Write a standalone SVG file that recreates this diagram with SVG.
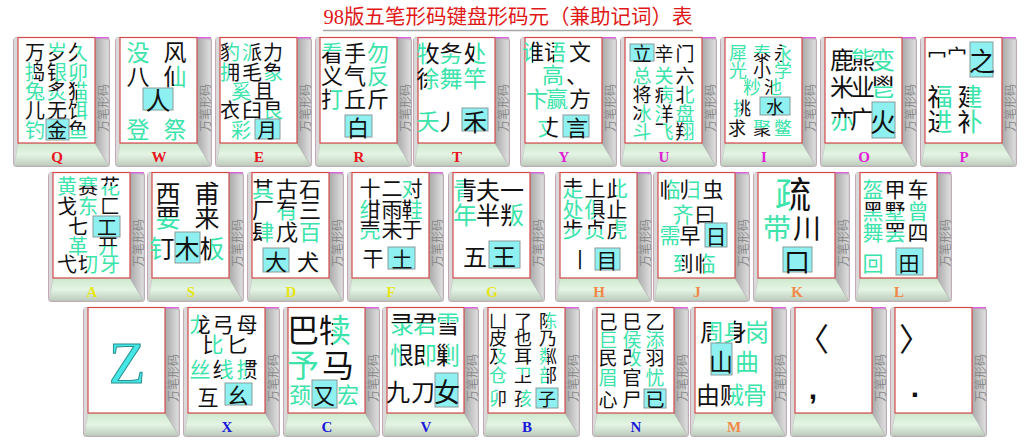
<svg xmlns="http://www.w3.org/2000/svg" width="1024" height="445" viewBox="0 0 1024 445">
<style>
text{font-family:"Noto Sans CJK SC",sans-serif;text-anchor:middle;dominant-baseline:central}
.k{fill:#111}
.g{fill:#3ce3aa}
.kg{fill:url(#KG)}
.gk{fill:url(#GK)}
.kgv{fill:url(#KGV)}
.gkv{fill:url(#GKV)}
.bx{fill:#8ef0f0;stroke:#8a9a9a;stroke-width:1}
.lb{font-family:"Liberation Serif",serif;font-weight:bold;font-size:15px}
.side{font-size:12px;fill:#8a8a8a}
.c1{fill:#e8141e}.c2{fill:#e020d8}.c3{fill:#e6e61a}.c4{fill:#f08848}.c5{fill:#1a1ad8}
</style>
<defs>
<linearGradient id="KG" x1="0" y1="0" x2="1" y2="0"><stop offset="0.45" stop-color="#111"/><stop offset="0.45" stop-color="#3ce3aa"/></linearGradient>
<linearGradient id="GK" x1="0" y1="0" x2="1" y2="0"><stop offset="0.45" stop-color="#3ce3aa"/><stop offset="0.45" stop-color="#111"/></linearGradient>
<linearGradient id="KGV" x1="0" y1="0" x2="0" y2="1"><stop offset="0.54" stop-color="#111"/><stop offset="0.54" stop-color="#3ce3aa"/></linearGradient>
<linearGradient id="GKV" x1="0" y1="0" x2="0" y2="1"><stop offset="0.54" stop-color="#3ce3aa"/><stop offset="0.54" stop-color="#111"/></linearGradient>
<linearGradient id="gb" x1="0" y1="0" x2="0" y2="1"><stop offset="0" stop-color="#cde8cd"/><stop offset="0.5" stop-color="#e4f4e4"/><stop offset="1" stop-color="#bccbbc"/></linearGradient>
<linearGradient id="gr" x1="0" y1="0" x2="1" y2="0"><stop offset="0" stop-color="#a8a8a8"/><stop offset="1" stop-color="#e0e0e0"/></linearGradient>
<g id="key">
<rect x="0.5" y="0.5" width="96" height="129" rx="3" fill="#cfcfcf" stroke="#c4a9b4"/>
<polygon points="1,129 5,106 82,106 96,129" fill="url(#gb)" stroke="#b5b5b5" stroke-width="0.6"/>
<polygon points="82,0.5 96,3 96,129 82,106" fill="url(#gr)" stroke="#b5b5b5" stroke-width="0.6"/>
<polygon points="1,1 5,0.5 5,106 1,129" fill="#d9d9d9"/>
<rect x="5" y="0.5" width="77" height="105.5" fill="#fff" stroke="#d24a4a" stroke-width="1.2"/>
<line x1="82" y1="0.8" x2="96" y2="0.8" stroke="#e050e0" stroke-width="1.2"/>
<text class="side" transform="translate(89.5,71) rotate(-90)">万笔形码</text>
</g>
</defs>
<rect width="1024" height="445" fill="#fff"/>
<g id="title">
<text x="508" y="17" font-size="20.5" fill="#e01818" style="font-family:'Liberation Serif','Noto Sans CJK SC',serif">98版五笔形码键盘形码元（兼助记词）表</text>
<line x1="323" y1="30.5" x2="693" y2="30.5" stroke="#a8a8a8" stroke-width="1.5"/>
</g>
<g id="connectors"/>

<g id="key-Q" font-size="20">
<use href="#key" x="13" y="37"/>
<text class="lb c1" x="57" y="157">Q</text>
<text class="k" x="35" y="51">万</text>
<text class="gkv" x="57" y="51">岁</text>
<text class="kg" x="78" y="51">久</text>
<text class="gk" x="35" y="71">捣</text>
<text class="kg" x="57" y="71">银</text>
<text class="g" x="78" y="71">卯</text>
<text class="g" x="35" y="90">兔</text>
<text class="kgv" x="57" y="90">炙</text>
<text class="kg" x="78" y="90">猫</text>
<text class="k" x="35" y="109">儿</text>
<text class="k" x="57" y="109">无</text>
<text class="kg" x="78" y="109">饵</text>
<text class="g" x="35" y="129">钓</text>
<rect class="bx" x="46" y="119" width="23" height="21"/>
<text class="k" x="57" y="129">金</text>
<text class="kgv" x="78" y="129">鱼</text>
</g>

<g id="key-W" font-size="23">
<use href="#key" x="115" y="37"/>
<text class="lb c1" x="159" y="157">W</text>
<text class="g" x="138" y="51">没</text>
<text class="k" x="175" y="51">风</text>
<text class="k" x="138" y="75">八</text>
<text class="kg" x="175" y="75">仙</text>
<rect class="bx" x="143" y="88" width="30" height="22"/>
<text class="k" x="158" y="99" font-size="25">人</text>
<text class="g" x="138" y="128">登</text>
<text class="g" x="175" y="128">祭</text>
</g>

<g id="key-E" font-size="20">
<use href="#key" x="215" y="37"/>
<text class="lb c1" x="259" y="157">E</text>
<text class="kg" x="230" y="51">豹</text>
<text class="gk" x="252" y="51">派</text>
<text class="k" x="273" y="51">力</text>
<text class="gk" x="230" y="71">拥</text>
<text class="k" x="252" y="71">毛</text>
<text class="kgv" x="273" y="71">象</text>
<text class="g" x="241" y="90">奚</text>
<text class="k" x="264" y="90">且</text>
<text class="k" x="230" y="109">衣</text>
<text class="k" x="252" y="109">臼</text>
<text class="kgv" x="273" y="109">艮</text>
<text class="g" x="241" y="129">彩</text>
<rect class="bx" x="255" y="119" width="25" height="20"/>
<text class="k" x="267" y="129">月</text>
</g>

<g id="key-R" font-size="22">
<use href="#key" x="315" y="37"/>
<text class="lb c1" x="359" y="157">R</text>
<text class="gkv" x="332" y="51">看</text>
<text class="k" x="355" y="51">手</text>
<text class="g" x="378" y="51">勿</text>
<text class="k" x="332" y="74">义</text>
<text class="k" x="355" y="74">气</text>
<text class="g" x="378" y="74">反</text>
<text class="kg" x="332" y="97">打</text>
<text class="k" x="355" y="97">丘</text>
<text class="k" x="378" y="97">斤</text>
<rect class="bx" x="345" y="115" width="27" height="22"/>
<text class="k" x="358" y="126">白</text>
</g>

<g id="key-T" font-size="23">
<use href="#key" x="413" y="37"/>
<text class="lb c1" x="457" y="157">T</text>
<text class="gk" x="428" y="52">牧</text>
<text class="kgv" x="451" y="52">务</text>
<text class="kg" x="475" y="52">处</text>
<text class="kg" x="428" y="77">徐</text>
<text class="g" x="451" y="77">舞</text>
<text class="g" x="475" y="77">竿</text>
<text class="g" x="428" y="120">夭</text>
<text class="k" x="447" y="120">丿</text>
<rect class="bx" x="462" y="108" width="26" height="23"/>
<text class="k" x="475" y="120" font-size="24">禾</text>
</g>

<g id="key-Y" font-size="22">
<use href="#key" x="520" y="37"/>
<text class="lb c2" x="564" y="157">Y</text>
<text class="gk" x="533" y="50">谁</text>
<text class="kg" x="555" y="50">语</text>
<text class="k" x="580" y="50">文</text>
<text class="g" x="553" y="73">高</text>
<text class="k" x="577" y="73">、</text>
<text class="g" x="537" y="97">卞</text>
<text class="g" x="557" y="97">赢</text>
<text class="k" x="580" y="97">方</text>
<text class="gk" x="548" y="125">丈</text>
<rect class="bx" x="563" y="115" width="26" height="22"/>
<text class="k" x="577" y="126">言</text>
</g>

<g id="key-U" font-size="19">
<use href="#key" x="620" y="37"/>
<text class="lb c2" x="664" y="157">U</text>
<rect class="bx" x="630" y="44" width="24" height="17"/>
<text class="k" x="642" y="52">立</text>
<text class="k" x="664" y="52">辛</text>
<text class="k" x="685" y="52">门</text>
<text class="g" x="642" y="74">总</text>
<text class="g" x="664" y="74">关</text>
<text class="k" x="685" y="74">六</text>
<text class="k" x="642" y="93">将</text>
<text class="kg" x="664" y="93">病</text>
<text class="kg" x="685" y="93">北</text>
<text class="kg" x="642" y="112">冰</text>
<text class="gk" x="664" y="112">洋</text>
<text class="g" x="685" y="112">盘</text>
<text class="g" x="642" y="130">斗</text>
<text class="kg" x="664" y="130">飞</text>
<text class="kg" x="685" y="130">翔</text>
</g>

<g id="key-I" font-size="18">
<use href="#key" x="720" y="37"/>
<text class="lb c2" x="764" y="157">I</text>
<text class="g" x="738" y="52">犀</text>
<text class="gkv" x="762" y="52">泰</text>
<text class="kg" x="783" y="52">永</text>
<text class="g" x="738" y="69">光</text>
<text class="k" x="762" y="69">小</text>
<text class="g" x="783" y="69">学</text>
<text class="g" x="752" y="86">粆</text>
<text class="kg" x="773" y="86">池</text>
<text class="gk" x="742" y="107">挑</text>
<rect class="bx" x="760" y="97" width="30" height="18"/>
<text class="k" x="775" y="106">水</text>
<text class="k" x="737" y="127">求</text>
<text class="gkv" x="762" y="127">聚</text>
<text class="g" x="783" y="127">鳖</text>
</g>

<g id="key-O" font-size="24">
<use href="#key" x="820" y="37"/>
<text class="lb c2" x="864" y="157">O</text>
<text class="k" x="842" y="58">鹿</text>
<text class="gkv" x="863" y="58">熊</text>
<text class="g" x="883" y="58">变</text>
<text class="k" x="842" y="85">米</text>
<text class="k" x="863" y="85">业</text>
<text class="kgv" x="883" y="85">鬯</text>
<text class="kgv" x="842" y="117">亦</text>
<text class="k" x="862" y="117">广</text>
<rect class="bx" x="872" y="102" width="23" height="36"/>
<text class="k" x="883" y="120" font-size="26">火</text>
</g>

<g id="key-P" font-size="25">
<use href="#key" x="920" y="37"/>
<text class="lb c2" x="964" y="157">P</text>
<text class="k" x="937" y="55" font-size="20">冖</text>
<text class="k" x="957" y="55" font-size="20">宀</text>
<rect class="bx" x="970" y="42" width="23" height="35"/>
<text class="k" x="982" y="59" font-size="26">之</text>
<text class="kg" x="940" y="95">福</text>
<text class="kg" x="970" y="95">建</text>
<text class="kg" x="940" y="120">进</text>
<text class="kg" x="970" y="120">补</text>
</g>

<g id="key-A" font-size="20">
<use href="#key" x="48" y="172"/>
<text class="lb c3" x="92" y="292">A</text>
<text class="g" x="67" y="185">黄</text>
<text class="gkv" x="88" y="185">赛</text>
<text class="kgv" x="110" y="185">花</text>
<text class="k" x="67" y="205">戈</text>
<text class="g" x="88" y="205">东</text>
<text class="k" x="110" y="205">匚</text>
<text class="k" x="78" y="225">七</text>
<rect class="bx" x="93" y="216" width="27" height="21"/>
<text class="k" x="107" y="226">工</text>
<text class="g" x="78" y="245">革</text>
<text class="kgv" x="108" y="245">开</text>
<text class="k" x="67" y="263">弋</text>
<text class="kg" x="88" y="263">切</text>
<text class="g" x="110" y="263">牙</text>
</g>

<g id="key-S" font-size="25">
<use href="#key" x="147" y="172"/>
<text class="lb c3" x="191" y="292">S</text>
<text class="k" x="168" y="192">西</text>
<text class="k" x="207" y="192">甫</text>
<text class="kgv" x="168" y="216">要</text>
<text class="k" x="207" y="216">来</text>
<text class="gk" x="162" y="247">钉</text>
<rect class="bx" x="175" y="232" width="25" height="31"/>
<text class="k" x="187" y="247">木</text>
<text class="kg" x="212" y="247">板</text>
</g>

<g id="key-D" font-size="22">
<use href="#key" x="247" y="172"/>
<text class="lb c3" x="291" y="292">D</text>
<text class="kgv" x="263" y="187">其</text>
<text class="k" x="287" y="187">古</text>
<text class="k" x="310" y="187">石</text>
<text class="k" x="263" y="208">厂</text>
<text class="kgv" x="287" y="208">有</text>
<text class="k" x="310" y="208">三</text>
<text class="kg" x="263" y="230">肆</text>
<text class="k" x="287" y="230">戊</text>
<text class="g" x="310" y="230">百</text>
<rect class="bx" x="263" y="248" width="26" height="24"/>
<text class="k" x="276" y="260">大</text>
<text class="k" x="308" y="260">犬</text>
</g>

<g id="key-F" font-size="21">
<use href="#key" x="347" y="172"/>
<text class="lb c3" x="391" y="292">F</text>
<text class="k" x="370" y="187">十</text>
<text class="k" x="392" y="187">二</text>
<text class="gk" x="412" y="187">对</text>
<text class="gk" x="370" y="208">绀</text>
<text class="k" x="392" y="208">雨</text>
<text class="kg" x="412" y="208">鞋</text>
<text class="kgv" x="370" y="228">壳</text>
<text class="k" x="392" y="228">未</text>
<text class="k" x="412" y="228">于</text>
<text class="k" x="373" y="257">干</text>
<rect class="bx" x="388" y="247" width="27" height="22"/>
<text class="k" x="402" y="258">土</text>
</g>

<g id="key-G" font-size="24">
<use href="#key" x="448" y="172"/>
<text class="lb c3" x="492" y="292">G</text>
<text class="gk" x="465" y="188">青</text>
<text class="k" x="488" y="188">夫</text>
<text class="k" x="512" y="188">一</text>
<text class="g" x="465" y="213">年</text>
<text class="k" x="488" y="213">半</text>
<text class="kg" x="512" y="213">叛</text>
<text class="k" x="475" y="255">五</text>
<rect class="bx" x="489" y="241" width="31" height="27"/>
<text class="k" x="504" y="255">王</text>
</g>

<g id="key-H" font-size="21">
<use href="#key" x="555" y="172"/>
<text class="lb c4" x="599" y="292">H</text>
<text class="kgv" x="573" y="187">走</text>
<text class="k" x="595" y="187">上</text>
<text class="kg" x="617" y="187">此</text>
<text class="g" x="573" y="208">处</text>
<text class="gk" x="595" y="208">俱</text>
<text class="k" x="617" y="208">止</text>
<text class="kgv" x="573" y="228">步</text>
<text class="kgv" x="595" y="228">贞</text>
<text class="kg" x="617" y="228">虎</text>
<text class="k" x="580" y="258">丨</text>
<rect class="bx" x="595" y="248" width="25" height="22"/>
<text class="k" x="607" y="259">目</text>
</g>

<g id="key-J" font-size="21">
<use href="#key" x="653" y="172"/>
<text class="lb c4" x="697" y="292">J</text>
<text class="kg" x="670" y="188">临</text>
<text class="kg" x="690" y="188">归</text>
<text class="k" x="713" y="188">虫</text>
<text class="g" x="683" y="213">齐</text>
<text class="k" x="705" y="213">曰</text>
<text class="g" x="670" y="234">需</text>
<text class="k" x="690" y="234">早</text>
<rect class="bx" x="705" y="223" width="22" height="24"/>
<text class="k" x="716" y="235">日</text>
<text class="gk" x="683" y="262">到</text>
<text class="kg" x="705" y="262">临</text>
</g>

<g id="key-K" font-size="28">
<use href="#key" x="753" y="172"/>
<text class="lb c4" x="797" y="292">K</text>
<text class="gk" x="793" y="192" font-size="36">疏</text>
<text class="g" x="777" y="227">带</text>
<text class="k" x="807" y="227">川</text>
<rect class="bx" x="783" y="247" width="29" height="25"/>
<text class="k" x="797" y="260" font-size="26">口</text>
</g>

<g id="key-L" font-size="21">
<use href="#key" x="855" y="172"/>
<text class="lb c4" x="899" y="292">L</text>
<text class="g" x="873" y="188">盔</text>
<text class="k" x="895" y="188">甲</text>
<text class="k" x="918" y="188">车</text>
<text class="kgv" x="873" y="210">黑</text>
<text class="kgv" x="895" y="210">墅</text>
<text class="g" x="918" y="210">曾</text>
<text class="g" x="873" y="231">舞</text>
<text class="kgv" x="895" y="231">罢</text>
<text class="k" x="918" y="231">四</text>
<text class="g" x="873" y="262">回</text>
<rect class="bx" x="896" y="248" width="27" height="27"/>
<text class="k" x="909" y="262">田</text>
</g>

<g id="key-Z">
<use href="#key" x="83" y="307"/>
<text x="127" y="363" font-size="60" fill="#44e6e6" stroke="#2a8f8f" stroke-width="1" style="font-family:'Liberation Serif',serif">Z</text>
</g>

<g id="key-X" font-size="21">
<use href="#key" x="183" y="307"/>
<text class="lb c5" x="227" y="427">X</text>
<text class="gk" x="200" y="323">龙</text>
<text class="k" x="223" y="323">弓</text>
<text class="k" x="247" y="323">母</text>
<text class="kg" x="213" y="343">比</text>
<text class="k" x="237" y="343">匕</text>
<text class="g" x="200" y="368">丝</text>
<text class="kg" x="223" y="368">线</text>
<text class="gk" x="247" y="368">掼</text>
<text class="k" x="208" y="396">互</text>
<rect class="bx" x="225" y="383" width="27" height="22"/>
<text class="k" x="238" y="394">幺</text>
</g>

<g id="key-C" font-size="32">
<use href="#key" x="283" y="307"/>
<text class="lb c5" x="327" y="427">C</text>
<text class="k" x="303" y="328">巴</text>
<text class="kg" x="335" y="328">犊</text>
<text class="g" x="303" y="363">予</text>
<text class="k" x="338" y="363">马</text>
<text class="g" x="300" y="393" font-size="22">颈</text>
<rect class="bx" x="312" y="380" width="25" height="28"/>
<text class="k" x="324" y="394" font-size="22">又</text>
<text class="g" x="348" y="393" font-size="22">宏</text>
</g>

<g id="key-V" font-size="24">
<use href="#key" x="382" y="307"/>
<text class="lb c5" x="426" y="427">V</text>
<text class="kgv" x="402" y="322">录</text>
<text class="kgv" x="425" y="322">君</text>
<text class="gkv" x="448" y="322">雪</text>
<text class="gk" x="402" y="353">恨</text>
<text class="kg" x="425" y="353">即</text>
<text class="kg" x="448" y="353">剿</text>
<text class="k" x="398" y="390">九</text>
<text class="k" x="423" y="390">刀</text>
<rect class="bx" x="435" y="373" width="23" height="34"/>
<text class="k" x="447" y="390" font-size="26">女</text>
</g>

<g id="key-B" font-size="18">
<use href="#key" x="483" y="307"/>
<text class="lb c5" x="527" y="427">B</text>
<text class="k" x="498" y="320">凵</text>
<text class="k" x="523" y="320">了</text>
<text class="kg" x="548" y="320">陈</text>
<text class="k" x="498" y="337">皮</text>
<text class="k" x="523" y="337">也</text>
<text class="k" x="548" y="337">乃</text>
<text class="kg" x="498" y="355">及</text>
<text class="k" x="523" y="355">耳</text>
<text class="gk" x="548" y="355">粼</text>
<text class="g" x="498" y="374">仓</text>
<text class="gkv" x="523" y="374">卫</text>
<text class="gk" x="548" y="374">部</text>
<text class="gk" x="498" y="397">卯</text>
<text class="kg" x="523" y="397">孩</text>
<rect class="bx" x="536" y="388" width="22" height="20"/>
<text class="k" x="547" y="398">子</text>
</g>

<g id="key-N" font-size="19">
<use href="#key" x="592" y="307"/>
<text class="lb c5" x="636" y="427">N</text>
<text class="k" x="608" y="320">己</text>
<text class="k" x="632" y="320">巳</text>
<text class="k" x="655" y="320">乙</text>
<text class="g" x="608" y="338">巨</text>
<text class="g" x="632" y="338">侯</text>
<text class="g" x="655" y="338">添</text>
<text class="k" x="608" y="356">民</text>
<text class="kg" x="632" y="356">改</text>
<text class="k" x="655" y="356">羽</text>
<text class="g" x="608" y="376">眉</text>
<text class="k" x="632" y="376">官</text>
<text class="g" x="655" y="376">忧</text>
<text class="k" x="608" y="398">心</text>
<text class="k" x="632" y="398">尸</text>
<rect class="bx" x="644" y="389" width="22" height="19"/>
<text class="k" x="655" y="398">已</text>
</g>

<g id="key-M" font-size="24">
<use href="#key" x="690" y="307"/>
<text class="lb c4" x="734" y="427">M</text>
<text class="kg" x="712" y="330">周</text>
<text class="gk" x="735" y="330">身</text>
<text class="g" x="757" y="330">岗</text>
<rect class="bx" x="711" y="343" width="21" height="32"/>
<text class="k" x="721" y="360">山</text>
<text class="g" x="747" y="360">曲</text>
<text class="k" x="708" y="393">由</text>
<text class="kg" x="732" y="393">贼</text>
<text class="g" x="755" y="393">骨</text>
</g>

<g id="key-comma">
<use href="#key" x="790" y="307"/>
<text class="k" x="813" y="337" font-size="32">〈</text>
<text class="k" x="813" y="388" font-size="30" style="font-family:'Liberation Sans',sans-serif;font-weight:bold">,</text>
</g>

<g id="key-period">
<use href="#key" x="890" y="307"/>
<text class="k" x="915" y="337" font-size="32">〉</text>
<text class="k" x="915" y="386" font-size="30" style="font-family:'Liberation Sans',sans-serif;font-weight:bold">.</text>
</g>
</svg>
